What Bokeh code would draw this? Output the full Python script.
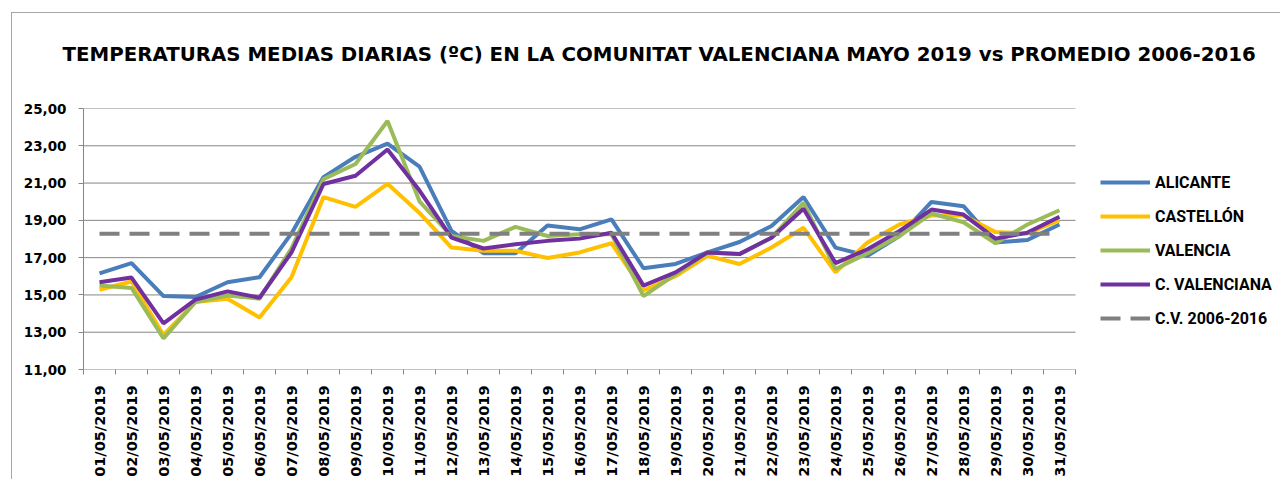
import math
from bokeh.plotting import figure
from bokeh.models import Range1d, FixedTicker, Legend, LegendItem
from bokeh.embed import file_html
from bokeh.resources import INLINE

titulo = "TEMPERATURAS MEDIAS DIARIAS (ºC) EN LA COMUNITAT VALENCIANA  MAYO 2019 vs PROMEDIO 2006-2016"

fechas = [
    "01/05/2019", "02/05/2019", "03/05/2019", "04/05/2019", "05/05/2019", "06/05/2019",
    "07/05/2019", "08/05/2019", "09/05/2019", "10/05/2019", "11/05/2019", "12/05/2019",
    "13/05/2019", "14/05/2019", "15/05/2019", "16/05/2019", "17/05/2019", "18/05/2019",
    "19/05/2019", "20/05/2019", "21/05/2019", "22/05/2019", "23/05/2019", "24/05/2019",
    "25/05/2019", "26/05/2019", "27/05/2019", "28/05/2019", "29/05/2019", "30/05/2019",
    "31/05/2019",
]

alicante = [16.16, 16.71, 14.94, 14.89, 15.68, 15.95, 18.30, 21.32, 22.41, 23.12, 21.88,
            18.43, 17.24, 17.24, 18.73, 18.52, 19.05, 16.43, 16.66, 17.28, 17.84, 18.70,
            20.25, 17.54, 17.10, 18.16, 19.99, 19.76, 17.81, 17.95, 18.78]
castellon = [15.28, 15.72, 12.85, 14.62, 14.80, 13.79, 15.95, 20.25, 19.72, 20.96, 19.40,
             17.54, 17.37, 17.37, 16.98, 17.28, 17.77, 15.24, 16.00, 17.10, 16.66, 17.54,
             18.60, 16.21, 17.81, 18.78, 19.26, 19.26, 18.37, 18.30, 19.01]
valencia = [15.50, 15.37, 12.67, 14.62, 14.97, 14.80, 17.50, 21.21, 22.02, 24.33, 20.02,
            18.16, 17.90, 18.65, 18.16, 18.25, 18.25, 14.94, 16.10, 17.28, 17.19, 18.07,
            19.94, 16.39, 17.24, 18.16, 19.37, 18.90, 17.77, 18.78, 19.54]
c_valenciana = [15.68, 15.93, 13.47, 14.75, 15.19, 14.85, 17.28, 20.95, 21.39, 22.80, 20.60,
                18.07, 17.49, 17.72, 17.90, 18.02, 18.34, 15.50, 16.21, 17.28, 17.19, 18.07,
                19.62, 16.71, 17.45, 18.43, 19.58, 19.31, 18.02, 18.34, 19.19]
cv_2006_2016 = [18.28, 18.28, 18.28, 18.28, 18.28, 18.28, 18.28, 18.28, 18.28, 18.28, 18.28,
                18.28, 18.28, 18.28, 18.28, 18.28, 18.28, 18.28, 18.28, 18.28, 18.28, 18.28,
                18.28, 18.28, 18.28, 18.28, 18.28, 18.28, 18.28, 18.28, 18.28]

series_nombres = ["ALICANTE", "CASTELLÓN", "VALENCIA", "C. VALENCIANA", "C.V. 2006-2016"]
series_valores = [alicante, castellon, valencia, c_valenciana, cv_2006_2016]
series_colores = ["#4A7EBB", "#FFC000", "#9BBB59", "#7030A0", "#808080"]

y_ticks = [11, 13, 15, 17, 19, 21, 23, 25]
y_labels = ["11,00", "13,00", "15,00", "17,00", "19,00", "21,00", "23,00", "25,00"]

xs = list(range(len(fechas)))
n = len(fechas)

# Layout: the plotted days occupy 992 px of a 1197 px frame; the rest holds the legend.
FRAME_W, DAYS_W = 1197, 992
x_start = -0.5
x_end = x_start + n * FRAME_W / DAYS_W

p = figure(
    width=1280, height=479,
    x_range=Range1d(x_start, x_end),
    y_range=Range1d(y_ticks[0], y_ticks[-1]),
    output_backend="svg", toolbar_location=None,
    min_border_left=83, min_border_right=0, min_border_top=108, min_border_bottom=107,
)
p.border_fill_color = None
p.background_fill_color = None
p.outline_line_color = None
p.styles = {
    "background-color": "white",
    "background-image": "linear-gradient(#a6a6a6, #a6a6a6), linear-gradient(#a6a6a6, #a6a6a6)",
    "background-size": "1px 100%, 100% 1px",
    "background-position": "11px 12px, 11px 12px",
    "background-repeat": "no-repeat",
}

p.title.text = titulo
p.title.text_font = "DejaVu Sans"
p.title.text_font_style = "bold"
p.title.text_font_size = "19.8px"
p.title.text_color = "#000000"
p.title.align = "left"
p.title.offset = -21
p.title.vertical_align = "top"
p.title.standoff = 82

gris = "#868686"
p.xgrid.grid_line_color = None
p.ygrid.grid_line_color = None
# horizontal gridlines only across the days
p.segment(x0=[x_start] * len(y_ticks), x1=[n - 0.5] * len(y_ticks), y0=y_ticks, y1=y_ticks,
          line_color=gris, line_width=1, level="underlay")

renderers = []
for nombre, vals, col in zip(series_nombres, series_valores, series_colores):
    dash = "20 10" if nombre == "C.V. 2006-2016" else "solid"
    r = p.line(xs, vals, line_color=col, line_width=4, line_dash=dash)
    renderers.append(r)

legend = Legend(
    items=[LegendItem(label=nm, renderers=[r]) for nm, r in zip(series_nombres, renderers)],
    location=(1017, 41), orientation="vertical",
    glyph_width=50, glyph_height=20, label_height=20, spacing=14,
    padding=0, margin=0, border_line_color=None, background_fill_alpha=0,
    label_text_font="Roboto", label_text_font_style="bold", label_text_font_size="16px",
    label_text_color="#000000", label_standoff=5,
)
p.add_layout(legend)

p.yaxis.ticker = FixedTicker(ticks=y_ticks)
p.yaxis.major_label_overrides = dict(zip(y_ticks, y_labels))
p.yaxis.axis_line_color = gris
p.yaxis.major_tick_line_color = gris
p.yaxis.major_tick_out = 5
p.yaxis.major_tick_in = 0
p.yaxis.minor_tick_line_color = None
p.yaxis.major_label_standoff = 12
p.yaxis.major_label_text_font = "DejaVu Sans"
p.yaxis.major_label_text_font_style = "bold"
p.yaxis.major_label_text_font_size = "13.5px"
p.yaxis.major_label_text_color = "#000000"

p.xaxis.ticker = FixedTicker(ticks=xs, minor_ticks=[x - 0.5 for x in xs] + [xs[-1] + 0.5])
p.xaxis.major_label_overrides = dict(zip(xs, fechas))
p.xaxis.axis_line_color = None
p.xaxis.major_tick_line_color = None
p.xaxis.major_tick_out = 0
p.xaxis.major_tick_in = 0
p.xaxis.minor_tick_line_color = gris
p.xaxis.minor_tick_out = 5
p.xaxis.minor_tick_in = 0
p.xaxis.major_label_orientation = math.pi / 2
p.xaxis.major_label_standoff = 11
p.xaxis.major_label_text_font = "DejaVu Sans"
p.xaxis.major_label_text_font_style = "bold"
p.xaxis.major_label_text_font_size = "14.5px"
p.xaxis.major_label_text_color = "#000000"

open("out.html", "w").write(file_html(p, INLINE))
